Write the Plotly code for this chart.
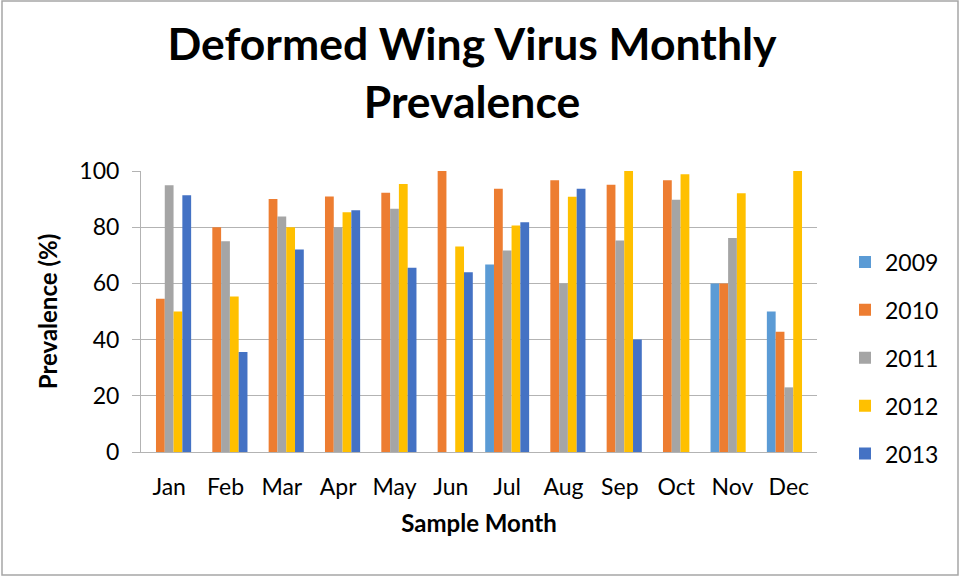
import plotly.graph_objects as go

months = ["Jan", "Feb", "Mar", "Apr", "May", "Jun", "Jul", "Aug", "Sep", "Oct", "Nov", "Dec"]
years = ["2009", "2010", "2011", "2012", "2013"]

v2009 = [None, None, None, None, None, None, 66.7, None, None, None, 60, 50]
v2010 = [54.5, 80, 90, 90.9, 92.3, 100, 93.7, 96.7, 95.1, 96.7, 60, 42.8]
v2011 = [94.9, 75, 83.8, 80, 86.6, None, 71.7, 60, 75.3, 89.8, 76.2, 23]
v2012 = [50, 55.3, 80, 85.3, 95.4, 73.1, 80.6, 90.8, 100, 98.8, 92.1, 100]
v2013 = [91.4, 35.6, 72.1, 86, 65.6, 64, 81.8, 93.7, 40, None, None, None]

series = [v2009, v2010, v2011, v2012, v2013]
colors = ["#5B9BD5", "#ED7D31", "#A5A5A5", "#FFC000", "#4472C4"]

FONT = "Lato"
W, H = 961, 577
L, R, T, B = 141, 144, 171, 125
pw, ph = W - L - R, H - T - B

fig = go.Figure()
for name, vals, col in zip(years, series, colors):
    fig.add_trace(go.Bar(
        x=months, y=vals, name=name, marker=dict(color=col, line=dict(width=0)),
        legendgroup=name,
    ))

grid = "#b3b3b3"
fig.update_layout(
    width=W, height=H,
    margin=dict(l=L, r=R, t=T, b=B, autoexpand=False),
    paper_bgcolor="white", plot_bgcolor="white",
    barmode="group", bargap=0.22, bargroupgap=0,
    font=dict(family=FONT, color="black"),
    title=dict(
        text="<b>Deformed Wing Virus Monthly<br>Prevalence</b>",
        font=dict(family=FONT, size=44.5, color="black"),
        x=472 / W, xanchor="center", xref="container",
        y=1 - 60 / H, yanchor="top", yref="container",
    ),
    legend=dict(
        x=(845 - L) / pw, xanchor="left",
        y=(452 - 358) / ph, yanchor="middle",
        font=dict(family=FONT, size=23, color="black"),
        traceorder="grouped", tracegroupgap=15,
        itemsizing="constant", bgcolor="rgba(0,0,0,0)",
    ),
    xaxis=dict(
        showline=True, linecolor=grid, linewidth=1,
        ticks="", tickfont=dict(family=FONT, size=23, color="black"),
        ticklabelstandoff=14,
        title=dict(text="<b>Sample Month</b>", font=dict(family=FONT, size=24, color="black"), standoff=16),
    ),
    yaxis=dict(
        range=[0, 100], dtick=20, tick0=0,
        showgrid=True, gridcolor=grid, gridwidth=1,
        showline=True, linecolor=grid, linewidth=1,
        ticks="outside", ticklen=8, tickcolor=grid,
        tickfont=dict(family=FONT, size=23, color="black"),
        ticklabelstandoff=8,
        zeroline=False,
        title=dict(text="<b>Prevalence (%)</b>", font=dict(family=FONT, size=24, color="black"), standoff=14),
    ),
    shapes=[dict(
        type="rect", xref="paper", yref="paper",
        x0=(2 - L) / pw, x1=(958 - L) / pw,
        y0=-(B - 2) / ph, y1=1 + (T - 1) / ph,
        line=dict(color="#a6a6a6", width=1.5), fillcolor="rgba(0,0,0,0)", layer="below",
    )],
)

fig.write_html("out.html", config={"displayModeBar": False},
               post_script="document.body.style.margin='0px';")
